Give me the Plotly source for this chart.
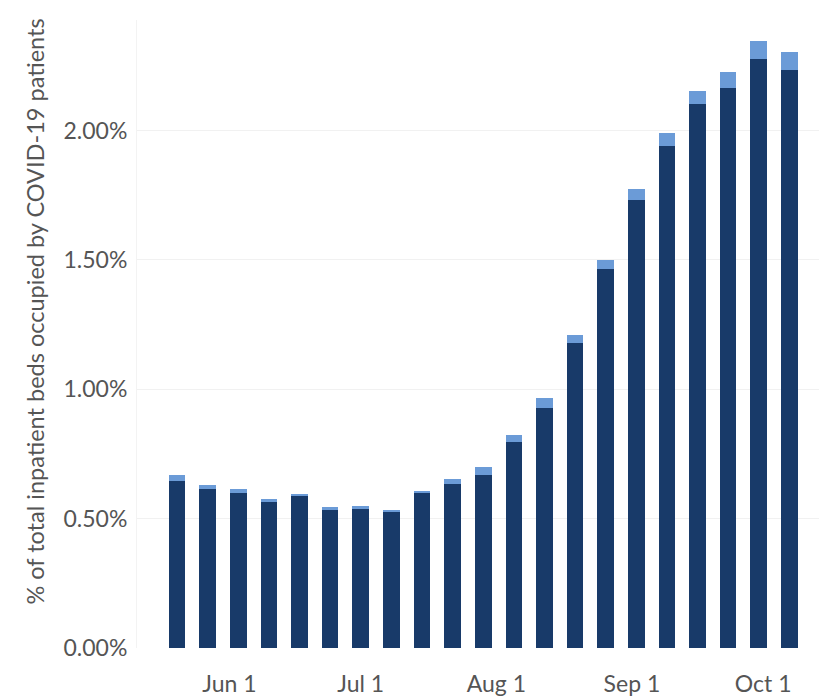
import plotly.graph_objects as go
import pandas as pd

# Weekly dates (bar positions)
dates = pd.date_range("2020-05-20", periods=21, freq="7D")

# % of inpatient beds occupied by COVID-19 patients (in percent)
base_pct = [0.646, 0.615, 0.599, 0.563, 0.588, 0.532, 0.541, 0.526, 0.602, 0.633, 0.669,
            0.795, 0.926, 1.177, 1.464, 1.733, 1.941, 2.103, 2.165, 2.278, 2.233]
total_pct = [0.669, 0.631, 0.614, 0.576, 0.593, 0.544, 0.548, 0.532, 0.605, 0.653, 0.698,
             0.823, 0.967, 1.210, 1.500, 1.772, 1.990, 2.154, 2.225, 2.346, 2.302]

base = [v / 100 for v in base_pct]
extra = [(t - b) / 100 for t, b in zip(total_pct, base_pct)]

y_ticks = [0, 0.005, 0.01, 0.015, 0.02]
x_ticks = ["2020-06-01", "2020-07-01", "2020-08-01", "2020-09-01", "2020-10-01"]
x_tick_labels = ["Jun 1", "Jul 1", "Aug 1", "Sep 1", "Oct 1"]

DARK = "#183a69"
LIGHT = "#6b9bd7"
bar_w = 3.8 * 86400000

fig = go.Figure()
fig.add_trace(go.Bar(x=dates, y=base, marker=dict(color=DARK, line=dict(width=0)),
                     width=bar_w, name="base"))
fig.add_trace(go.Bar(x=dates, y=extra, marker=dict(color=LIGHT, line=dict(width=0)),
                     width=bar_w, name="extra"))

font_family = "Lato, 'Liberation Sans', sans-serif"
TXT = "#555555"
fig.update_layout(
    barmode="stack",
    width=827, height=697,
    margin=dict(l=129, r=8, t=12, b=54),
    paper_bgcolor="white", plot_bgcolor="white",
    showlegend=False,
    font=dict(family=font_family, color=TXT, size=23),
    xaxis=dict(
        type="date",
        range=["2020-05-10 20:33", "2020-10-15 14:10"],
        tickvals=x_ticks, ticktext=x_tick_labels,
        showgrid=False, zeroline=False, showline=False,
        ticks="outside", ticklen=15, tickcolor="rgba(0,0,0,0)",
        tickfont=dict(size=23, color=TXT),
    ),
    yaxis=dict(
        range=[0, 0.024269],
        tickvals=y_ticks, tickformat=".2%",
        showgrid=True, gridcolor="#f1f1f1", gridwidth=1,
        zeroline=False, showline=True, linecolor="#f3f3f3", linewidth=1,
        ticks="outside", ticklen=4, tickcolor="rgba(0,0,0,0)",
        tickfont=dict(size=23, color=TXT),
    ),
    annotations=[dict(
        text="% of total inpatient beds occupied by COVID-19 patients",
        xref="paper", yref="paper", x=-0.1478, y=0.5357,
        xanchor="center", yanchor="middle", textangle=-90, showarrow=False,
        font=dict(size=23.5, color=TXT, family=font_family),
    )],
)

fig.write_html("out.html")
